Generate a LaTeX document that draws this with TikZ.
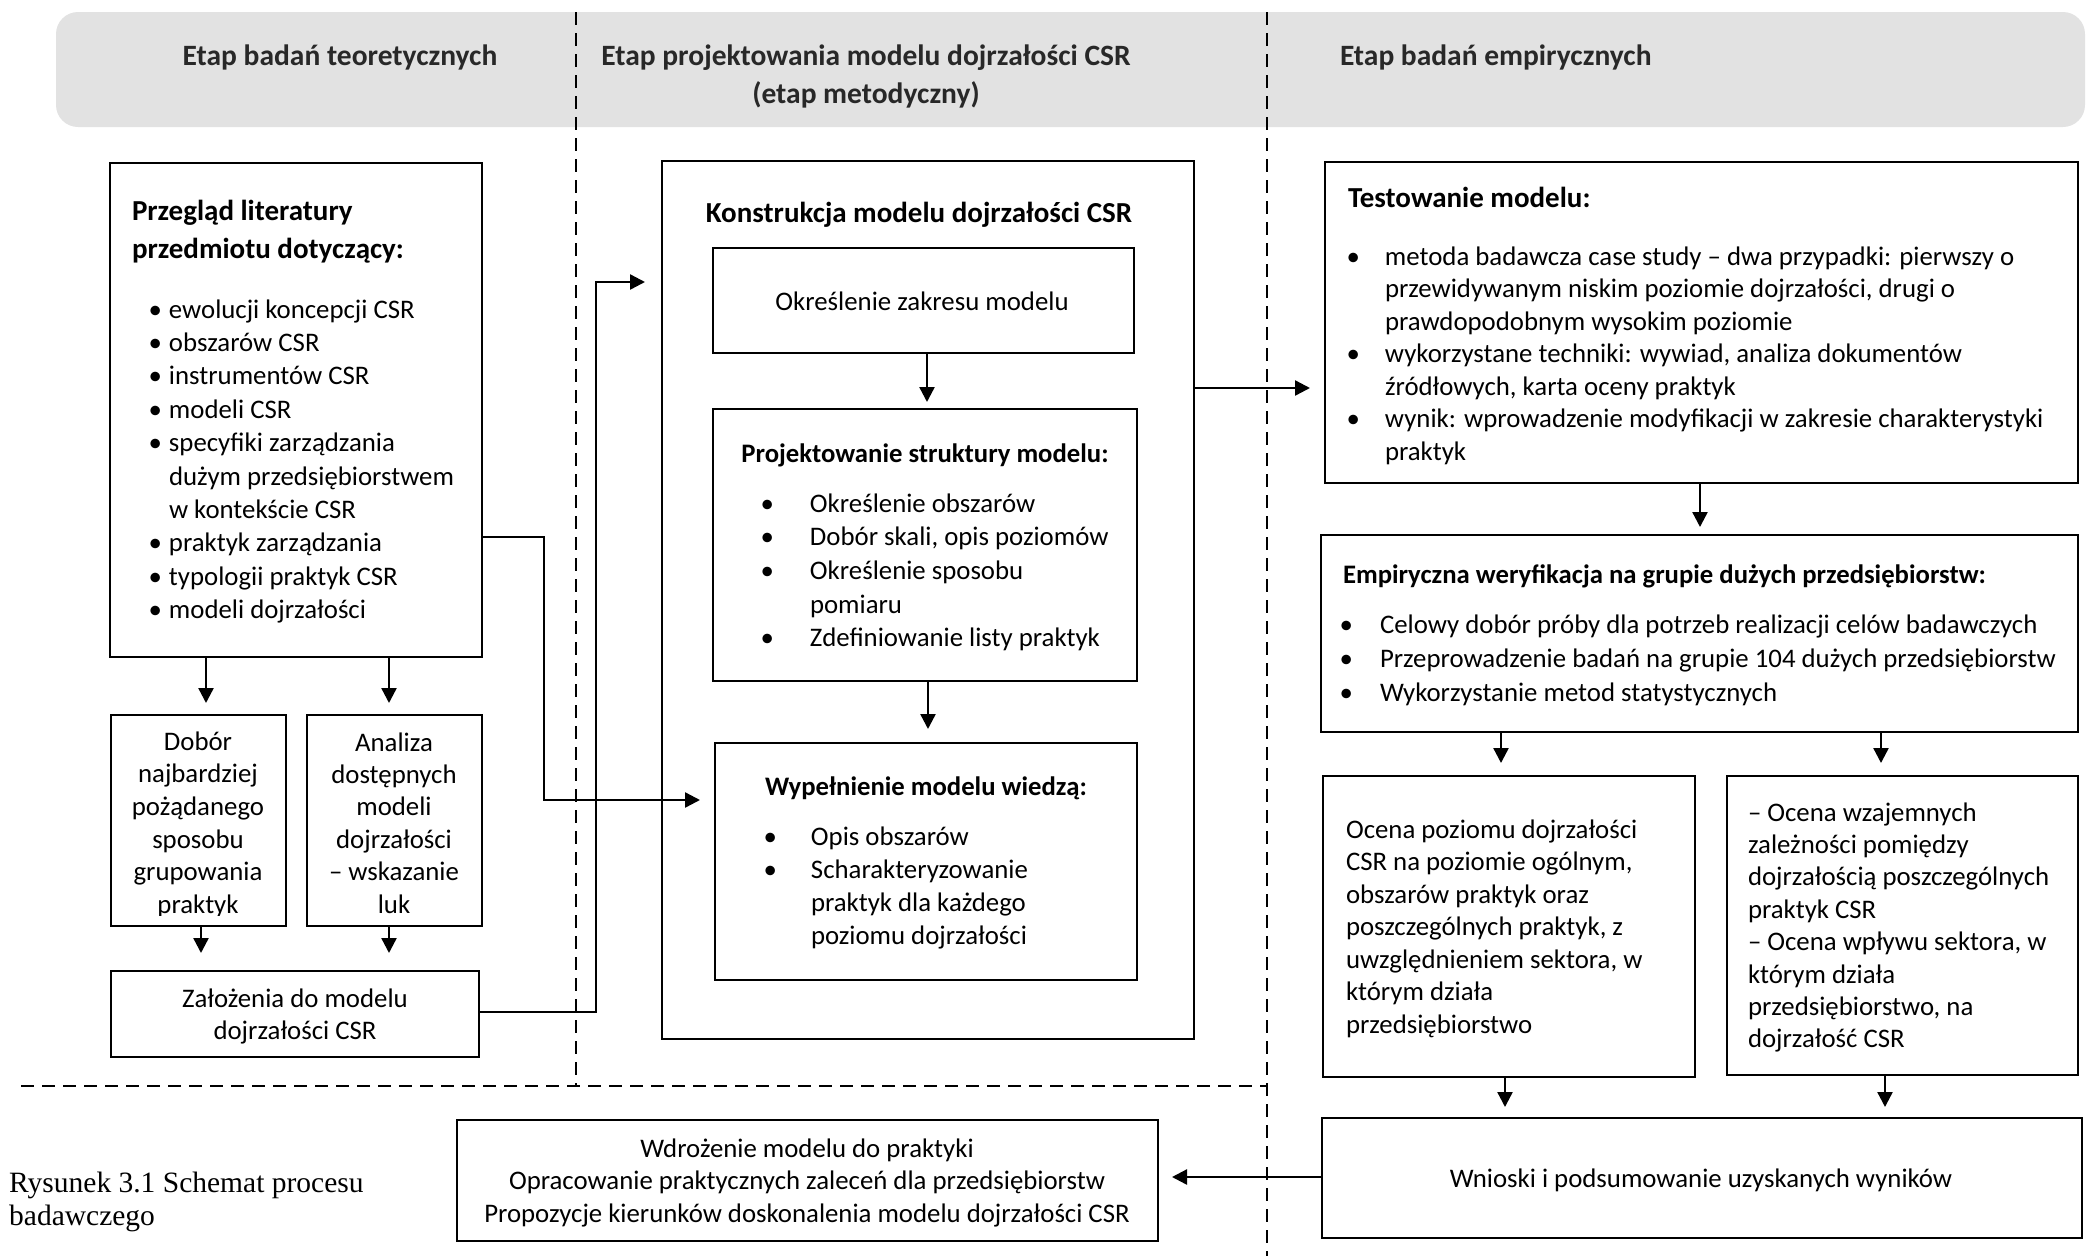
\documentclass[tikz,border=0pt]{standalone}
\usepackage{fontspec}
\setmainfont{Carlito}
\newfontfamily\capfont{Liberation Serif}
\usetikzlibrary{arrows.meta}
\definecolor{bandgray}{RGB}{226,226,226}
\definecolor{headtxt}{RGB}{40,40,40}
\newcommand\Lb[2]{\vtop{\baselineskip=#1\relax\halign{##\hfil\cr#2\crcr}}}
\newcommand\Cb[2]{\vtop{\baselineskip=#1\relax\halign{\hfil##\hfil\cr#2\crcr}}}
\newcommand\Bb[3]{\vtop{\baselineskip=#1\relax\halign{\hbox to #2{##\hfil}&##\hfil\cr#3\crcr}}}
\newcommand\bx[5]{\node[box, anchor=north west, minimum width={#4pt-#2pt}, minimum height={#5pt-#3pt}] (#1) at (#2,#3) {};}
\begin{document}
\begin{tikzpicture}[x=1pt, y=-1pt,
  box/.style={draw, line width=2.6pt, inner sep=0pt, outer sep=0pt},
  txt/.style={inner sep=0pt, outer sep=0pt, font=\fontsize{26.8}{33}\selectfont},
  ttl/.style={inner sep=0pt, outer sep=0pt, font=\fontsize{29}{36}\selectfont\bfseries},
  ttls/.style={inner sep=0pt, outer sep=0pt, font=\fontsize{26.7}{33}\selectfont\bfseries},
  hdr/.style={inner sep=0pt, outer sep=0pt, text=headtxt, font=\fontsize{29.5}{36}\selectfont\bfseries},
  arr/.style={line width=2.4pt, -{Triangle[length=15pt,width=15pt]}},
  dsh/.style={line width=2.4pt, dash pattern=on 13pt off 8pt}]
\useasboundingbox (0,0) rectangle (2089,1256);
% header band
\fill[bandgray, rounded corners=22pt] (56,12) rectangle (2085,127);
% dashed separators
\draw[dsh] (576,12) -- (576,1086);
\draw[dsh] (1267,12) -- (1267,1256);
\draw[dsh] (21,1086) -- (1267,1086);
% headers
\node[hdr, anchor=base] (h1) at (340,65) {Etap badań teoretycznych};
\node[hdr, anchor=base] (h2) at (866,65) {\Cb{38pt}{Etap projektowania modelu dojrzałości CSR\cr (etap metodyczny)}};
\node[hdr, anchor=base west] (h3) at (1340,65) {Etap badań empirycznych};
% boxes
\bx{prz}{110}{163}{482}{657}
\bx{dob}{111}{715}{286}{926}
\bx{ana}{307}{715}{482}{926}
\bx{zal}{111}{971}{479}{1057}
\bx{kon}{662}{161}{1194}{1039}
\bx{okr}{713}{248}{1134}{353}
\bx{proj}{713}{409}{1137}{681}
\bx{wyp}{715}{743}{1137}{980}
\bx{test}{1325}{162}{2078}{483}
\bx{emp}{1321}{535}{2078}{732}
\bx{oc1}{1323}{776}{1695}{1077}
\bx{oc2}{1727}{776}{2078}{1075}
\bx{wn}{1322}{1118}{2082}{1238}
\bx{wdr}{457}{1120}{1158}{1241}
% texts - left column
\node[ttl, anchor=base west] (prz-t) at (132,220) {\Lb{38pt}{Przegląd literatury\cr przedmiotu dotyczący:}};
\node[txt, anchor=base west] (prz-l) at (148.5,318) {\Bb{33.4pt}{20.5pt}{•&ewolucji koncepcji CSR\cr •&obszarów CSR\cr •&instrumentów CSR\cr •&modeli CSR\cr •&specyfiki zarządzania\cr &dużym przedsiębiorstwem\cr &w kontekście CSR\cr •&praktyk zarządzania\cr •&typologii praktyk CSR\cr •&modeli dojrzałości}};
\begin{scope}
\clip (100,700) rectangle (300,915);
\node[txt, anchor=base] (dob-t) at (198,750) {\Cb{32.7pt}{Dobór\cr najbardziej\cr pożądanego\cr sposobu\cr grupowania\cr praktyk}};
\end{scope}
\node[txt, anchor=base] (ana-t) at (394,751) {\Cb{32.4pt}{Analiza\cr dostępnych\cr modeli\cr dojrzałości\cr – wskazanie\cr luk}};
\node[txt, anchor=base] (zal-t) at (295,1007) {\Cb{32pt}{Założenia do modelu\cr dojrzałości CSR}};
% middle column
\node[ttl, anchor=base] (kon-t) at (919,222) {Konstrukcja modelu dojrzałości CSR};
\node[txt, anchor=base] (okr-t) at (922,310) {Określenie zakresu modelu};
\node[ttls, anchor=base] (proj-t) at (925,462) {Projektowanie struktury modelu:};
\node[txt, anchor=base west] (proj-l) at (760.5,512) {\Bb{33.7pt}{49.5pt}{•&Określenie obszarów\cr •&Dobór skali, opis poziomów\cr •&Określenie sposobu\cr &pomiaru\cr •&Zdefiniowanie listy praktyk}};
\node[ttls, anchor=base] (wyp-t) at (926,795) {Wypełnienie modelu wiedzą:};
\node[txt, anchor=base west] (wyp-l) at (763.5,845) {\Bb{33.3pt}{47.5pt}{•&Opis obszarów\cr •&Scharakteryzowanie\cr &praktyk dla każdego\cr &poziomu dojrzałości}};
% right column
\node[ttl, anchor=base west] (test-t) at (1348,207) {Testowanie modelu:};
\node[txt, anchor=base west] (test-l) at (1346.5,265) {\Bb{32.5pt}{38.5pt}{•&metoda badawcza case study – dwa przypadki: pierwszy o\cr &przewidywanym niskim poziomie dojrzałości, drugi o\cr &prawdopodobnym wysokim poziomie\cr •&wykorzystane techniki: wywiad, analiza dokumentów\cr &źródłowych, karta oceny praktyk\cr •&wynik: wprowadzenie modyfikacji w zakresie charakterystyki\cr &praktyk}};
\node[ttls, anchor=base west] (emp-t) at (1343,583) {Empiryczna weryfikacja na grupie dużych przedsiębiorstw:};
\node[txt, anchor=base west] (emp-l) at (1339.5,633) {\Bb{34pt}{40.5pt}{•&Celowy dobór próby dla potrzeb realizacji celów badawczych\cr •&Przeprowadzenie badań na grupie 104 dużych przedsiębiorstw\cr •&Wykorzystanie metod statystycznych}};
\node[txt, anchor=base west] (oc1-t) at (1346,838) {\Lb{32.5pt}{Ocena poziomu dojrzałości\cr CSR na poziomie ogólnym,\cr obszarów praktyk oraz\cr poszczególnych praktyk, z\cr uwzględnieniem sektora, w\cr którym działa\cr przedsiębiorstwo}};
\node[txt, anchor=base west] (oc2-t) at (1748,821) {\Lb{32.4pt}{– Ocena wzajemnych\cr zależności pomiędzy\cr dojrzałością poszczególnych\cr praktyk CSR\cr – Ocena wpływu sektora, w\cr którym działa\cr przedsiębiorstwo, na\cr dojrzałość CSR}};
\node[txt, anchor=base] (wn-t) at (1701,1187) {Wnioski i podsumowanie uzyskanych wyników};
\node[txt, anchor=base] (wdr-t) at (807,1157) {\Cb{32.5pt}{Wdrożenie modelu do praktyki\cr Opracowanie praktycznych zaleceń dla przedsiębiorstw\cr Propozycje kierunków doskonalenia modelu dojrzałości CSR}};
\node[inner sep=0pt, anchor=base west, font=\capfont\fontsize{29.5}{33}\selectfont] (cap) at (9,1192) {\Lb{33pt}{Rysunek 3.1 Schemat procesu\cr badawczego}};
% arrows
\draw[arr, shorten >=12pt] (prz.south -| 206,0) -- (dob.north -| 206,0);
\draw[arr, shorten >=12pt] (prz.south -| 389,0) -- (ana.north -| 389,0);
\draw[arr, shorten >=18pt] (dob.south -| 201,0) -- (zal.north -| 201,0);
\draw[arr, shorten >=18pt] (ana.south -| 389,0) -- (zal.north -| 389,0);
\draw[arr, shorten >=15pt] (prz.east |- 0,537) -- (544,537) -- (544,800) -- (wyp.west |- 0,800);
\draw[arr, shorten >=17pt] (zal.east |- 0,1012) -- (596,1012) -- (596,282) -- (kon.west |- 0,282);
\draw[arr, shorten >=7pt] (okr.south -| 927,0) -- (proj.north -| 927,0);
\draw[arr, shorten >=14pt] (proj.south -| 928,0) -- (wyp.north -| 928,0);
\draw[arr, shorten >=15pt] (kon.east |- 0,388) -- (test.west |- 0,388);
\draw[arr, shorten >=8pt] (test.south -| 1700,0) -- (emp.north -| 1700,0);
\draw[arr, shorten >=13pt] (emp.south -| 1501,0) -- (oc1.north -| 1501,0);
\draw[arr, shorten >=13pt] (emp.south -| 1881,0) -- (oc2.north -| 1881,0);
\draw[arr, shorten >=11pt] (oc1.south -| 1505,0) -- (wn.north -| 1505,0);
\draw[arr, shorten >=11pt] (oc2.south -| 1885,0) -- (wn.north -| 1885,0);
\draw[arr, shorten >=14pt] (wn.west |- 0,1177) -- (wdr.east |- 0,1177);
\end{tikzpicture}
\end{document}
